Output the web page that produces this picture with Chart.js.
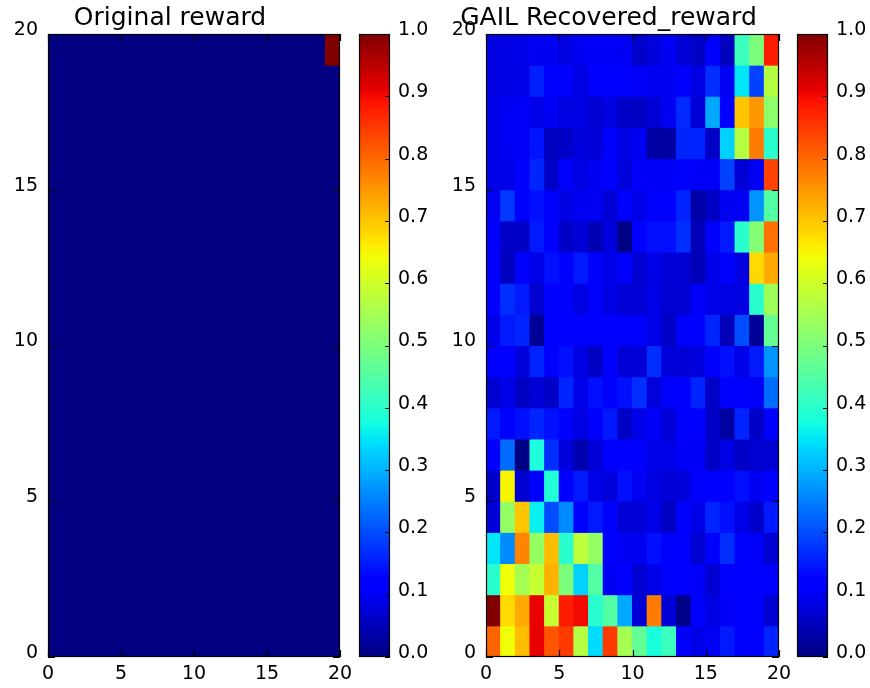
<!DOCTYPE html>
<html>
<head>
<meta charset="utf-8">
<script src="https://cdn.jsdelivr.net/npm/chart.js@4.4.0/dist/chart.umd.min.js"></script>
<style>
  body { margin: 0; background: #fff; }
  #wrap { position: relative; width: 870px; height: 688px; overflow: hidden; }
  canvas { position: absolute; top: 0; }
</style>
</head>
<body>
<div id="wrap">
  <canvas id="orig" style="left:0px;width:388px;height:688px" width="388" height="688"></canvas>
  <canvas id="gail" style="left:438px;width:389px;height:688px" width="389" height="688"></canvas>
  <canvas id="cbOrig" style="left:350px;width:90px;height:688px" width="90" height="688"></canvas>
  <canvas id="cbGail" style="left:788px;width:82px;height:688px" width="82" height="688"></canvas>
</div>
<script>
const xTicks = [0, 5, 10, 15, 20];
const yTicks = [0, 5, 10, 15, 20];
const cbTicks = [0, 0.1, 0.2, 0.3, 0.4, 0.5, 0.6, 0.7, 0.8, 0.9, 1.0];

// rows listed top (y = 19) to bottom (y = 0), columns x = 0..19
const originalReward = [
  [0,0,0,0,0,0,0,0,0,0,0,0,0,0,0,0,0,0,0,1],
  [0,0,0,0,0,0,0,0,0,0,0,0,0,0,0,0,0,0,0,0],
  [0,0,0,0,0,0,0,0,0,0,0,0,0,0,0,0,0,0,0,0],
  [0,0,0,0,0,0,0,0,0,0,0,0,0,0,0,0,0,0,0,0],
  [0,0,0,0,0,0,0,0,0,0,0,0,0,0,0,0,0,0,0,0],
  [0,0,0,0,0,0,0,0,0,0,0,0,0,0,0,0,0,0,0,0],
  [0,0,0,0,0,0,0,0,0,0,0,0,0,0,0,0,0,0,0,0],
  [0,0,0,0,0,0,0,0,0,0,0,0,0,0,0,0,0,0,0,0],
  [0,0,0,0,0,0,0,0,0,0,0,0,0,0,0,0,0,0,0,0],
  [0,0,0,0,0,0,0,0,0,0,0,0,0,0,0,0,0,0,0,0],
  [0,0,0,0,0,0,0,0,0,0,0,0,0,0,0,0,0,0,0,0],
  [0,0,0,0,0,0,0,0,0,0,0,0,0,0,0,0,0,0,0,0],
  [0,0,0,0,0,0,0,0,0,0,0,0,0,0,0,0,0,0,0,0],
  [0,0,0,0,0,0,0,0,0,0,0,0,0,0,0,0,0,0,0,0],
  [0,0,0,0,0,0,0,0,0,0,0,0,0,0,0,0,0,0,0,0],
  [0,0,0,0,0,0,0,0,0,0,0,0,0,0,0,0,0,0,0,0],
  [0,0,0,0,0,0,0,0,0,0,0,0,0,0,0,0,0,0,0,0],
  [0,0,0,0,0,0,0,0,0,0,0,0,0,0,0,0,0,0,0,0],
  [0,0,0,0,0,0,0,0,0,0,0,0,0,0,0,0,0,0,0,0],
  [0,0,0,0,0,0,0,0,0,0,0,0,0,0,0,0,0,0,0,0]
];

const recoveredReward = [
  [0.085, 0.085, 0.09, 0.10, 0.10, 0.085, 0.10, 0.105, 0.105, 0.10, 0.065, 0.08, 0.10, 0.075, 0.06, 0.11, 0.055, 0.42, 0.50, 0.88],
  [0.085, 0.085, 0.09, 0.155, 0.11, 0.11, 0.085, 0.11, 0.11, 0.11, 0.105, 0.10, 0.10, 0.11, 0.085, 0.17, 0.10, 0.35, 0.19, 0.57],
  [0.09, 0.10, 0.105, 0.09, 0.10, 0.085, 0.085, 0.07, 0.085, 0.062, 0.06, 0.075, 0.10, 0.165, 0.075, 0.29, 0.11, 0.70, 0.75, 0.52],
  [0.09, 0.10, 0.105, 0.145, 0.055, 0.062, 0.08, 0.075, 0.11, 0.085, 0.10, 0.03, 0.03, 0.16, 0.16, 0.062, 0.33, 0.57, 0.78, 0.40],
  [0.09, 0.09, 0.11, 0.16, 0.062, 0.11, 0.085, 0.10, 0.11, 0.08, 0.105, 0.105, 0.105, 0.11, 0.105, 0.105, 0.19, 0.075, 0.10, 0.84],
  [0.10, 0.18, 0.11, 0.14, 0.11, 0.085, 0.10, 0.10, 0.075, 0.11, 0.09, 0.11, 0.11, 0.16, 0.035, 0.06, 0.10, 0.10, 0.27, 0.45],
  [0.11, 0.062, 0.062, 0.15, 0.11, 0.062, 0.075, 0.045, 0.08, 0.005, 0.11, 0.14, 0.14, 0.17, 0.045, 0.11, 0.15, 0.40, 0.51, 0.79],
  [0.11, 0.055, 0.11, 0.09, 0.14, 0.11, 0.15, 0.11, 0.09, 0.11, 0.07, 0.09, 0.075, 0.07, 0.05, 0.09, 0.11, 0.085, 0.68, 0.73],
  [0.11, 0.17, 0.15, 0.07, 0.11, 0.11, 0.085, 0.11, 0.085, 0.075, 0.075, 0.09, 0.07, 0.07, 0.105, 0.09, 0.085, 0.085, 0.40, 0.545],
  [0.09, 0.15, 0.16, 0.02, 0.11, 0.11, 0.11, 0.11, 0.11, 0.11, 0.11, 0.09, 0.062, 0.11, 0.11, 0.16, 0.05, 0.20, 0.02, 0.47],
  [0.11, 0.11, 0.08, 0.16, 0.11, 0.14, 0.085, 0.06, 0.11, 0.075, 0.075, 0.17, 0.08, 0.075, 0.08, 0.11, 0.14, 0.09, 0.15, 0.27],
  [0.07, 0.09, 0.06, 0.075, 0.062, 0.16, 0.09, 0.14, 0.11, 0.14, 0.17, 0.08, 0.11, 0.11, 0.16, 0.062, 0.11, 0.11, 0.105, 0.23],
  [0.15, 0.11, 0.14, 0.16, 0.14, 0.11, 0.085, 0.11, 0.15, 0.062, 0.09, 0.105, 0.075, 0.11, 0.11, 0.062, 0.03, 0.16, 0.062, 0.11],
  [0.11, 0.23, 0.005, 0.385, 0.17, 0.08, 0.04, 0.075, 0.11, 0.11, 0.11, 0.09, 0.09, 0.105, 0.105, 0.062, 0.085, 0.062, 0.07, 0.07],
  [0.065, 0.65, 0.07, 0.11, 0.39, 0.11, 0.15, 0.09, 0.08, 0.14, 0.10, 0.085, 0.075, 0.08, 0.11, 0.11, 0.11, 0.14, 0.10, 0.11],
  [0.075, 0.53, 0.70, 0.36, 0.20, 0.26, 0.11, 0.15, 0.11, 0.075, 0.075, 0.09, 0.06, 0.11, 0.09, 0.16, 0.14, 0.09, 0.065, 0.15],
  [0.35, 0.26, 0.77, 0.53, 0.71, 0.40, 0.58, 0.53, 0.11, 0.10, 0.10, 0.14, 0.11, 0.11, 0.07, 0.11, 0.17, 0.11, 0.105, 0.07],
  [0.40, 0.64, 0.55, 0.59, 0.72, 0.50, 0.33, 0.45, 0.10, 0.11, 0.07, 0.09, 0.11, 0.11, 0.105, 0.07, 0.11, 0.11, 0.11, 0.11],
  [1.00, 0.68, 0.73, 0.91, 0.59, 0.88, 0.90, 0.40, 0.45, 0.29, 0.075, 0.78, 0.075, 0.01, 0.11, 0.085, 0.105, 0.11, 0.11, 0.07],
  [0.805, 0.64, 0.71, 0.91, 0.82, 0.85, 0.57, 0.34, 0.85, 0.55, 0.47, 0.38, 0.42, 0.11, 0.09, 0.10, 0.15, 0.11, 0.11, 0.16]
];

// matplotlib "jet" colormap segments
const JET = {
  r: [[0, 0], [0.35, 0], [0.66, 1], [0.89, 1], [1, 0.5]],
  g: [[0, 0], [0.125, 0], [0.375, 1], [0.64, 1], [0.91, 0], [1, 0]],
  b: [[0, 0.5], [0.11, 1], [0.34, 1], [0.65, 0], [1, 0]]
};
const jetStops = [0, 0.11, 0.125, 0.34, 0.35, 0.375, 0.64, 0.65, 0.66, 0.89, 0.91, 1];

const seg = (pts, v) => {
    for (let i = 1; i < pts.length; i++) {
        if (v <= pts[i][0]) {
            const [x0, y0] = pts[i - 1], [x1, y1] = pts[i];
            return y0 + (y1 - y0) * (v - x0) / (x1 - x0);
        }
    }
    return pts[pts.length - 1][1];
};
const jet = v => {
    v = Math.max(0, Math.min(1, v));
    const c = k => Math.round(255 * seg(JET[k], v));
    return `rgb(${c('r')},${c('g')},${c('b')})`;
};

Chart.defaults.font.family = 'DejaVu Sans';
Chart.defaults.font.size = 19;
Chart.defaults.color = '#000';

// black frame plus inward tick marks, like matplotlib
const frameTicks = (xs, ys, len, leftSide) => ({
    id: 'frameTicks',
    afterDraw(chart) {
        const { ctx, chartArea: a, scales } = chart;
        ctx.save();
        ctx.strokeStyle = '#000';
        ctx.lineWidth = 1.2;
        ctx.beginPath();
        xs.forEach(t => {
            const px = Math.round(scales.x.getPixelForValue(t)) + 0.5;
            ctx.moveTo(px, a.bottom); ctx.lineTo(px, a.bottom - len);
            ctx.moveTo(px, a.top); ctx.lineTo(px, a.top + len);
        });
        ys.forEach(t => {
            const py = Math.round(scales.y.getPixelForValue(t)) + 0.5;
            if (leftSide) { ctx.moveTo(a.left, py); ctx.lineTo(a.left + len, py); }
            ctx.moveTo(a.right, py); ctx.lineTo(a.right - len, py);
        });
        ctx.stroke();
        ctx.strokeRect(Math.round(a.left) + 0.5, Math.round(a.top) + 0.5,
                       Math.round(a.right - a.left) - 1, Math.round(a.bottom - a.top) - 1);
        ctx.restore();
    }
});

const heatmap = (id, title, rows, padRight) => new Chart(document.getElementById(id), {
    type: 'bar',
    data: {
        datasets: rows.map((row, i) => {
            const r = rows.length - 1 - i;
            return {
                data: row.map((v, c) => ({ x: c + 0.5, y: [r, r + 1] })),
                backgroundColor: row.map(jet),
                borderWidth: 0,
                grouped: false,
                barPercentage: 1,
                categoryPercentage: 1,
                inflateAmount: 0.5
            };
        })
    },
    options: {
        responsive: false,
        animation: false,
        events: [],
        layout: { padding: { right: padRight } },
        plugins: {
            legend: { display: false },
            tooltip: { enabled: false },
            title: {
                display: true, text: title,
                font: { size: 25, weight: 'normal' },
                padding: { top: 3, bottom: 1 }
            }
        },
        scales: {
            x: {
                type: 'linear', min: 0, max: 20, offset: false,
                grid: { display: false, drawTicks: false }, border: { display: false },
                afterBuildTicks: s => { s.ticks = xTicks.map(v => ({ value: v })); },
                ticks: { padding: 6, maxRotation: 0 },
                afterFit: s => { s.height = 31; }
            },
            y: {
                type: 'linear', min: 0, max: 20,
                grid: { display: false, drawTicks: false }, border: { display: false },
                afterBuildTicks: s => { s.ticks = yTicks.map(v => ({ value: v })); },
                ticks: { padding: 10, labelOffset: -4 },
                afterFit: s => { s.width = 48; }
            }
        }
    },
    plugins: [frameTicks(xTicks, yTicks, 7, true)]
});

const colorbar = (id, axisWidth) => new Chart(document.getElementById(id), {
    type: 'bar',
    data: {
        labels: [''],
        datasets: [{
            data: [[0, 1]],
            borderWidth: 0,
            barPercentage: 1,
            categoryPercentage: 1,
            inflateAmount: 0,
            backgroundColor: ctx => {
                const a = ctx.chart.chartArea;
                if (!a) return jet(0.5);
                const g = ctx.chart.ctx.createLinearGradient(0, a.bottom, 0, a.top);
                jetStops.forEach(s => g.addColorStop(s, jet(s)));
                return g;
            }
        }]
    },
    options: {
        responsive: false,
        animation: false,
        events: [],
        layout: { padding: { left: 9, top: 34, bottom: 31 } },
        plugins: {
            legend: { display: false },
            tooltip: { enabled: false }
        },
        scales: {
            x: { display: false },
            y: {
                position: 'right', min: 0, max: 1,
                grid: { display: false, drawTicks: false }, border: { display: false },
                afterBuildTicks: s => { s.ticks = cbTicks.map(v => ({ value: v })); },
                ticks: { padding: 8, labelOffset: -4, callback: v => v.toFixed(1) },
                afterFit: s => { s.width = axisWidth; }
            }
        }
    },
    plugins: [frameTicks([], cbTicks, 5, false)]
});

heatmap('orig', 'Original reward', originalReward, 48);
heatmap('gail', 'GAIL Recovered_reward', recoveredReward, 48);
colorbar('cbOrig', 50);
colorbar('cbGail', 42);
</script>
</body>
</html>
